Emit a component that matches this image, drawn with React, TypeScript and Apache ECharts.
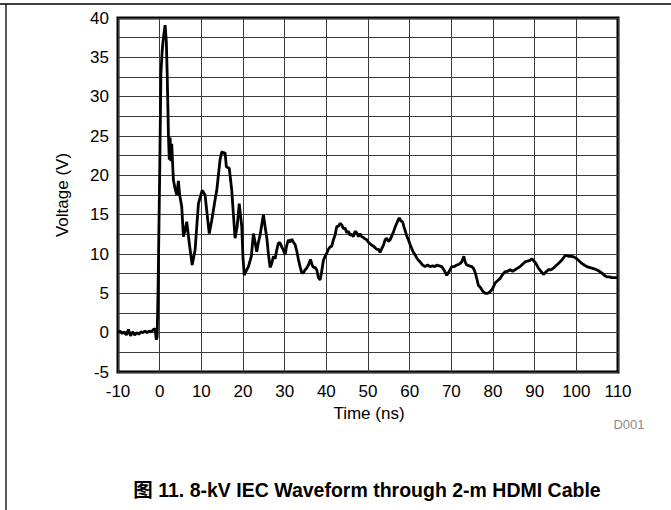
import React, { useEffect, useRef } from "react";
import * as echarts from "echarts";

const xTicks = [-10, 0, 10, 20, 30, 40, 50, 60, 70, 80, 90, 100, 110];
const yTicks = [-5, 0, 5, 10, 15, 20, 25, 30, 35, 40];

const timeNs: number[] = [
  -10, -9.5, -9, -8.5, -8, -7.5, -7, -6.5, -6, -5.5, -5, -4.5, -4, -3.5, -3, -2.5, -2, -1.5, -1.1, -0.8, -0.6,
  -0.4, 0, 0.3, 0.6, 0.9, 1.3, 1.6, 1.8, 2.0, 2.1, 2.3, 2.5, 2.7, 2.9, 3.1, 3.3, 3.7, 4.1, 4.5, 4.8, 5.3, 5.7,
  6.1, 6.5, 7.1, 7.8, 8.5, 9.3, 10.2, 10.9, 11.4, 11.9, 12.5, 13.3, 13.7, 14.5, 14.9, 15.4, 15.7, 16.0, 16.7,
  17.3, 17.7, 18.1, 18.6, 19.1, 19.7, 20.0, 20.3, 20.9, 21.3, 22.0, 22.5, 22.9, 23.3, 23.7, 24.1, 24.9, 25.3,
  25.7, 26.1, 26.5, 26.9, 27.3, 27.7, 28.1, 28.5, 28.9, 29.3, 29.7, 30.1, 30.5, 30.9, 31.3, 31.7, 32.1, 32.5,
  32.9, 33.3, 33.7, 34.1, 34.5, 34.9, 35.3, 35.7, 36.2, 36.6, 36.9, 37.3, 37.7, 38.1, 38.5, 38.8, 39.3, 39.7,
  40.1, 40.5, 40.9, 41.3, 41.7, 42.1, 42.5, 42.9, 43.3, 43.7, 44.1, 44.5, 44.9, 45.3, 45.7, 46.1, 46.5, 46.9,
  47.3, 47.7, 48.1, 48.5, 48.9, 49.3, 49.7, 50.1, 50.5, 50.9, 51.3, 51.7, 52.1, 52.5, 52.9, 53.3, 53.7, 54.1,
  54.5, 54.9, 55.3, 55.7, 56.1, 56.5, 56.9, 57.3, 57.5, 57.9, 58.3, 58.6, 58.9, 59.3, 59.7, 60.1, 60.5, 60.9,
  61.3, 61.7, 62.1, 62.5, 63.1, 63.7, 64.3, 64.9, 65.5, 66.1, 66.5, 67.1, 67.7, 68.3, 68.9, 69.5, 70.1, 70.7,
  71.3, 71.9, 72.5, 73.0, 73.3, 73.7, 74.3, 74.9, 75.3, 75.7, 76.1, 76.5, 76.9, 77.5, 78.1, 78.7, 79.3, 79.9,
  80.5, 81.1, 81.7, 82.3, 82.9, 83.5, 84.1, 84.7, 85.3, 85.9, 86.5, 87.1, 87.7, 88.3, 88.9, 89.3, 89.7, 90.3,
  90.9, 91.5, 92.1, 92.7, 93.3, 93.9, 94.5, 95.1, 95.7, 96.3, 96.9, 97.3, 97.7, 98.3, 98.9, 99.5, 100.1, 100.7,
  101.3, 101.9, 102.5, 103.1, 103.7, 104.3, 104.9, 105.5, 106.1, 106.7, 107.3, 107.9, 108.5, 109.1, 109.7, 110,
];

const voltage: number[] = [
  0.0, 0.2, -0.1, 0.1, -0.3, 0.4, -0.4, 0.1, -0.3, 0.0, -0.2, 0.1, 0.0, 0.2, 0.0, 0.2, 0.1, 0.4, 0.5, -0.9, -0.5,
  5, 20, 33, 35.8, 37.5, 39.1, 37, 33, 28, 25.2, 22, 24.8, 21.8, 24, 21.5, 19.4, 18.3, 17.5, 19.3, 17.5, 16.0, 12.2,
  13.0, 14.1, 11.4, 8.6, 10.5, 16.4, 18.1, 17.5, 15, 12.6, 14.3, 16.9, 18.1, 22.0, 23.0, 22.8, 22.9, 21.1, 20.9,
  18.1, 15, 12.0, 13.5, 16.4, 13.5, 9.5, 7.3, 8.0, 8.4, 9.7, 12.6, 11.5, 10.3, 11.5, 12.4, 15.0, 13.5,
  12.1, 10, 8.3, 8.8, 9.7, 9.4, 10.5, 11.4, 11.4, 10.9, 10.5, 9.9, 11.1, 11.8, 11.5, 11.9, 11.5, 11.2,
  10.4, 9.3, 8.4, 7.6, 7.6, 8.0, 8.2, 8.6, 9.3, 8.6, 8.3, 8.3, 8.0, 7.0, 6.7, 7.5, 9.2, 9.7,
  10.1, 10.6, 10.9, 11.0, 11.8, 12.4, 13.5, 13.5, 13.9, 13.7, 13.2, 13.3, 12.7, 12.9, 12.4, 12.5, 12.2, 12.9,
  12.7, 12.2, 12.6, 12.2, 12.1, 11.9, 11.8, 11.5, 11.3, 11.1, 11.0, 10.8, 10.6, 10.6, 10.2, 10.7, 11.1, 11.8,
  12.0, 11.6, 11.8, 12.3, 12.8, 13.4, 13.9, 14.4, 14.6, 14.2, 14.1, 13.5, 13.0, 12.3, 11.8, 11.2, 10.7, 10.2,
  9.9, 9.5, 9.2, 9.0, 8.6, 8.4, 8.6, 8.4, 8.5, 8.4, 8.6, 8.5, 8.4, 7.9, 7.3, 7.8, 8.4, 8.4,
  8.6, 8.7, 9.0, 9.7, 9.0, 8.6, 8.5, 8.4, 8.2, 7.7, 6.9, 6.0, 5.8, 5.3, 5.0, 5.0, 5.2, 5.6,
  6.3, 6.6, 6.9, 7.4, 7.75, 7.8, 8.0, 7.8, 8.0, 8.2, 8.4, 8.7, 9.0, 9.1, 9.2, 9.4, 9.2, 8.8,
  8.2, 7.8, 7.4, 7.7, 8.0, 8.0, 8.2, 8.5, 8.8, 9.1, 9.5, 9.8, 9.8, 9.7, 9.7, 9.6, 9.4, 9.1,
  8.8, 8.6, 8.4, 8.3, 8.2, 8.1, 8.0, 7.8, 7.6, 7.3, 7.1, 7.1, 7.0, 7.0, 7.0, 7.0,
];

const xName = "Time (ns)";
const yName = "Voltage (V)";
const tag = "D001";
const caption = "图 11. 8-kV IEC Waveform through 2-m HDMI Cable";

const FONT = "'Liberation Sans', Arial, sans-serif";

export default function App() {
  const ref = useRef<HTMLDivElement>(null);

  useEffect(() => {
    document.body.style.margin = "0";
    if (!ref.current) return;
    const chart = echarts.init(ref.current, undefined, { renderer: "svg" });
    const data = timeNs.map((t, i) => [t, voltage[i]]);
    chart.setOption({
      animation: false,
      backgroundColor: "#ffffff",
      grid: {
        left: 118,
        top: 18,
        width: 500,
        height: 354,
        show: true,
        borderColor: "#000",
        borderWidth: 3,
        backgroundColor: "transparent",
      },
      xAxis: {
        type: "value",
        min: xTicks[0],
        max: xTicks[xTicks.length - 1],
        interval: 10,
        axisLine: { show: false },
        axisTick: { show: false },
        axisLabel: { color: "#000", fontSize: 17, fontFamily: FONT, margin: 11 },
        splitLine: { show: true, lineStyle: { color: "#3a3a3a", width: 1 } },
      },
      yAxis: {
        type: "value",
        min: yTicks[0],
        max: yTicks[yTicks.length - 1],
        interval: 5,
        axisLine: { show: false },
        axisTick: { show: false },
        axisLabel: { color: "#000", fontSize: 17, fontFamily: FONT, margin: 9 },
        splitLine: { show: true, lineStyle: { color: "#3a3a3a", width: 1 } },
        minorTick: { show: false, splitNumber: 2 },
        minorSplitLine: { show: true, lineStyle: { color: "#3a3a3a", width: 1 } },
      },
      series: [
        {
          type: "line",
          data,
          showSymbol: false,
          symbol: "none",
          lineStyle: { color: "#000", width: 2.8 },
          z: 5,
        },
      ],
      graphic: [
        { type: "line", shape: { x1: 0, y1: 4, x2: 671, y2: 4 }, style: { stroke: "#000", lineWidth: 1.3 } },
        { type: "line", shape: { x1: 6, y1: 4, x2: 6, y2: 510 }, style: { stroke: "#000", lineWidth: 1.3 } },
        {
          type: "text",
          x: 62,
          y: 195,
          rotation: Math.PI / 2,
          style: { text: yName, fontSize: 17, fontFamily: FONT, fill: "#000", align: "center", verticalAlign: "middle" },
        },
        {
          type: "text",
          x: 369,
          y: 413,
          style: { text: xName, fontSize: 17, fontFamily: FONT, fill: "#000", align: "center", verticalAlign: "middle" },
        },
        {
          type: "text",
          x: 629,
          y: 424,
          style: { text: tag, fontSize: 13, fontFamily: FONT, fill: "#8c8c8c", align: "center", verticalAlign: "middle" },
        },
        {
          type: "text",
          x: 367,
          y: 490,
          style: {
            text: caption,
            fontSize: 19.5,
            fontWeight: "bold",
            fontFamily: "'Liberation Sans', 'Noto Sans CJK SC', Arial, sans-serif",
            fill: "#000",
            align: "center",
            verticalAlign: "middle",
          },
        },
      ],
    });
    return () => chart.dispose();
  }, []);

  return <div ref={ref} style={{ width: 671, height: 510 }} />;
}
